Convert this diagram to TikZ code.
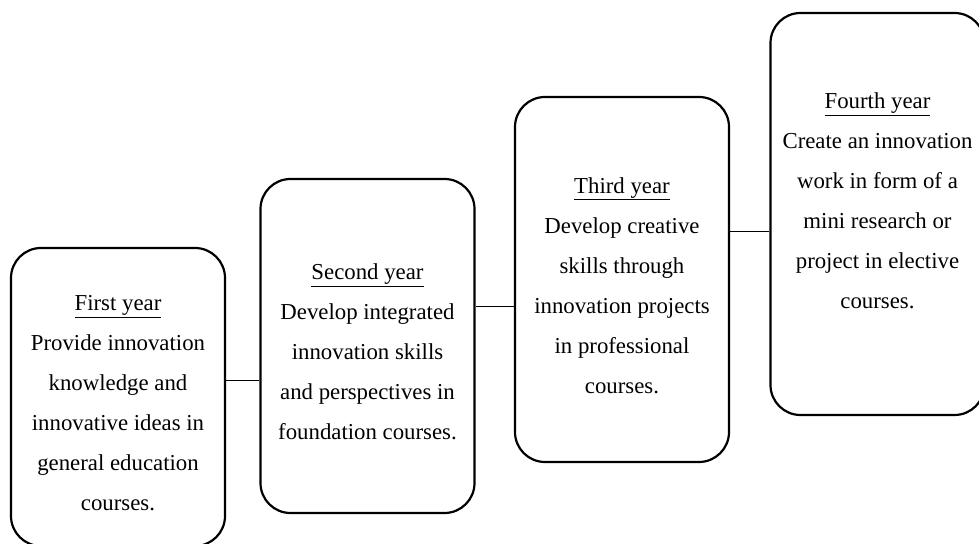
\documentclass[tikz,border=0pt]{standalone}
\usepackage{fontspec}
\setmainfont{Liberation Serif}
\usepackage{tikz}
\usetikzlibrary{positioning, calc}

\begin{document}
\begin{tikzpicture}[x=1pt, y=1pt,
  yearbox/.style={draw, line width=2.2pt, rounded corners=30pt, inner sep=0pt,
    minimum width=214pt},
  yeartext/.style={align=center, inner sep=0pt,
    font=\fontsize{22.8}{40}\selectfont},
  joinline/.style={line width=1pt}]
  \useasboundingbox (0,0) rectangle (979,543);

  % First year
  \node[yearbox, minimum height=298pt] (first) at (118,146) {};
  \node[yeartext] (firsttext) at ($(first.center)+(0,-6)$)
    {\underline{First year}\\Provide innovation\\knowledge and\\innovative ideas in\\general education\\courses.};

  % Second year
  \node[yearbox, minimum height=334pt] (second) at (367.5,197) {};
  \node[yeartext] (secondtext) at ($(second.center)+(0,-6)$)
    {\underline{Second year}\\Develop integrated\\innovation skills\\and perspectives in\\foundation courses.};

  % Third year
  \node[yearbox, minimum height=365pt] (third) at (622,263.5) {};
  \node[yeartext] (thirdtext) at ($(third.center)+(0,-6)$)
    {\underline{Third year}\\Develop creative\\skills through\\innovation projects\\in professional\\courses.};

  % Fourth year
  \node[yearbox, minimum height=402pt] (fourth) at (877.5,329) {};
  \node[yeartext] (fourthtext) at ($(fourth.center)+(0,13)$)
    {\underline{Fourth year}\\Create an innovation\\work in form of a\\mini research or\\project in elective\\courses.};

  % connectors
  \coordinate (joinA) at (0,162);
  \coordinate (joinB) at (0,236);
  \coordinate (joinC) at (0,311);
  \draw[joinline] (first.east |- joinA) -- (second.west |- joinA);
  \draw[joinline] (second.east |- joinB) -- (third.west |- joinB);
  \draw[joinline] (third.east |- joinC) -- (fourth.west |- joinC);
\end{tikzpicture}
\end{document}
